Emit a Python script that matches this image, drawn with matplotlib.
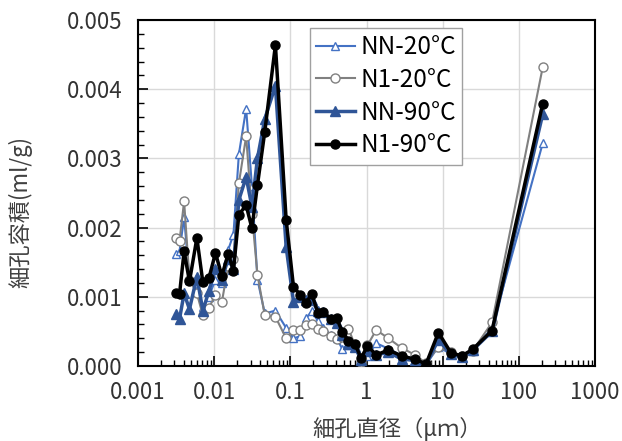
import matplotlib
matplotlib.use("Agg")
import matplotlib.pyplot as plt
from matplotlib.ticker import LogLocator, MultipleLocator, FixedLocator, FixedFormatter, NullFormatter

plt.rcParams['font.family'] = ['Noto Sans CJK JP', 'DejaVu Sans']

diameter_um = [0.00317, 0.00351, 0.00403, 0.00474, 0.00593, 0.00711, 0.00851, 0.0104, 0.0126, 0.0153,
               0.0179, 0.0211, 0.0263, 0.0313, 0.037, 0.0462, 0.0637, 0.0881, 0.110, 0.135,
               0.161, 0.191, 0.230, 0.272, 0.340, 0.407, 0.479, 0.578, 0.708, 0.849,
               1.03, 1.34, 1.94, 2.90, 4.35, 6.05, 8.79, 12.8, 17.8, 24.8,
               44.5, 206]

nn_20 = [1.62, 1.66, 2.15, 1.25, 1.10, 0.85, 1.00, 1.25, 1.20, 1.68,
         1.90, 3.06, 3.72, 2.60, 1.25, 0.76, 0.80, 0.55, 0.40, 0.43,
         0.69, 0.79, 0.65, 0.55, 0.45, 0.40, 0.25, 0.30, 0.28, 0.09,
         0.14, 0.33, 0.25, 0.15, 0.10, 0.02, 0.28, 0.17, 0.13, 0.22,
         0.55, 3.22]

n1_20 = [1.85, 1.81, 2.38, 1.25, 1.05, 0.73, 0.845, 1.02, 0.92, 1.45,
         1.55, 2.64, 3.32, 2.20, 1.32, 0.73, 0.71, 0.40, 0.52, 0.52,
         0.59, 0.61, 0.53, 0.50, 0.43, 0.39, 0.42, 0.54, 0.30, 0.06,
         0.30, 0.52, 0.40, 0.26, 0.16, 0.04, 0.28, 0.20, 0.15, 0.22,
         0.63, 4.32]

nn_90 = [0.75, 0.68, 1.05, 0.82, 1.29, 0.80, 1.08, 1.40, 1.25, 1.55,
         1.40, 2.40, 2.73, 2.30, 3.00, 3.57, 4.05, 1.72, 0.93, 1.00,
         0.95, 0.95, 0.80, 0.78, 0.68, 0.62, 0.45, 0.32, 0.28, 0.08,
         0.22, 0.16, 0.20, 0.10, 0.08, 0.02, 0.38, 0.17, 0.13, 0.23,
         0.50, 3.64]

n1_90 = [1.062, 1.039, 1.657, 1.222, 1.851, 1.207, 1.265, 1.633, 1.304, 1.623,
         1.377, 2.188, 2.323, 1.990, 2.613, 3.387, 4.638, 2.116, 1.145, 1.029,
         0.913, 1.043, 0.768, 0.775, 0.681, 0.691, 0.497, 0.367, 0.314, 0.112,
         0.294, 0.159, 0.232, 0.145, 0.097, 0.029, 0.483, 0.193, 0.145, 0.242,
         0.512, 3.793]

series_labels = ['NN-20°C', 'N1-20°C', 'NN-90°C', 'N1-90°C']
x_ticks = [0.001, 0.01, 0.1, 1, 10, 100, 1000]
x_ticklabels = ['0.001', '0.01', '0.1', '1', '10', '100', '1000']
y_ticks = [0.000, 0.001, 0.002, 0.003, 0.004, 0.005]
y_ticklabels = ['0.000', '0.001', '0.002', '0.003', '0.004', '0.005']

scale = 0.001
fig = plt.figure(figsize=(6.22, 4.41), dpi=100)
ax = fig.add_axes([138/622, 75/441, 457/622, 346/441])

ax.plot(diameter_um, [v*scale for v in nn_20], color='#4472C4', lw=1.5, marker='^',
        ms=6, mfc='white', mec='#4472C4', mew=1.0, label=series_labels[0], zorder=3)
ax.plot(diameter_um, [v*scale for v in n1_20], color='#808080', lw=1.5, marker='o',
        ms=6.5, mfc='white', mec='#808080', mew=1.0, label=series_labels[1], zorder=4)
ax.plot(diameter_um, [v*scale for v in nn_90], color='#2F5597', lw=2.5, marker='^',
        ms=6.5, mfc='#2F5597', mec='#2F5597', label=series_labels[2], zorder=5)
ax.plot(diameter_um, [v*scale for v in n1_90], color='black', lw=2.5, marker='o',
        ms=6.5, mfc='black', mec='black', label=series_labels[3], zorder=6)

ax.set_xscale('log')
ax.set_xlim(0.001, 1000)
ax.set_ylim(0, 0.005)
ax.xaxis.set_major_locator(FixedLocator(x_ticks))
ax.xaxis.set_major_formatter(FixedFormatter(x_ticklabels))
ax.xaxis.set_minor_locator(LogLocator(base=10, subs=range(2, 10), numticks=20))
ax.xaxis.set_minor_formatter(NullFormatter())
ax.yaxis.set_major_locator(FixedLocator(y_ticks))
ax.yaxis.set_major_formatter(FixedFormatter(y_ticklabels))
ax.yaxis.set_minor_locator(MultipleLocator(0.0002))

ax.grid(True, which='major', color='#D9D9D9', lw=1.0)
ax.set_axisbelow(True)
ax.tick_params(which='both', direction='in', labelsize=16, colors='black', labelcolor='#333333')
ax.tick_params(which='major', length=7, width=1.2)
ax.tick_params(which='minor', length=4, width=1.0)
ax.tick_params(axis='x', pad=11)
ax.tick_params(axis='y', pad=11)
for s in ax.spines.values():
    s.set_linewidth(1.5)
    s.set_color('black')

ax.set_xlabel('細孔直径（μｍ）', fontsize=16, color='#404040')
ax.set_ylabel('細孔容積(ml/g)', fontsize=16, color='#404040')
ax.xaxis.set_label_coords(0.567, -0.148)
ax.yaxis.set_label_coords(-0.232, 0.445)

leg = ax.legend(loc='upper left', bbox_to_anchor=(0.376, 0.977), fontsize=17.5,
                frameon=True, fancybox=False, edgecolor='#A0A0A0', framealpha=1,
                handlelength=1.6, borderpad=0.25, labelspacing=0.28, handletextpad=0.25,
                borderaxespad=0)
leg.get_frame().set_linewidth(1.0)

fig.savefig('out.png', dpi=100)
